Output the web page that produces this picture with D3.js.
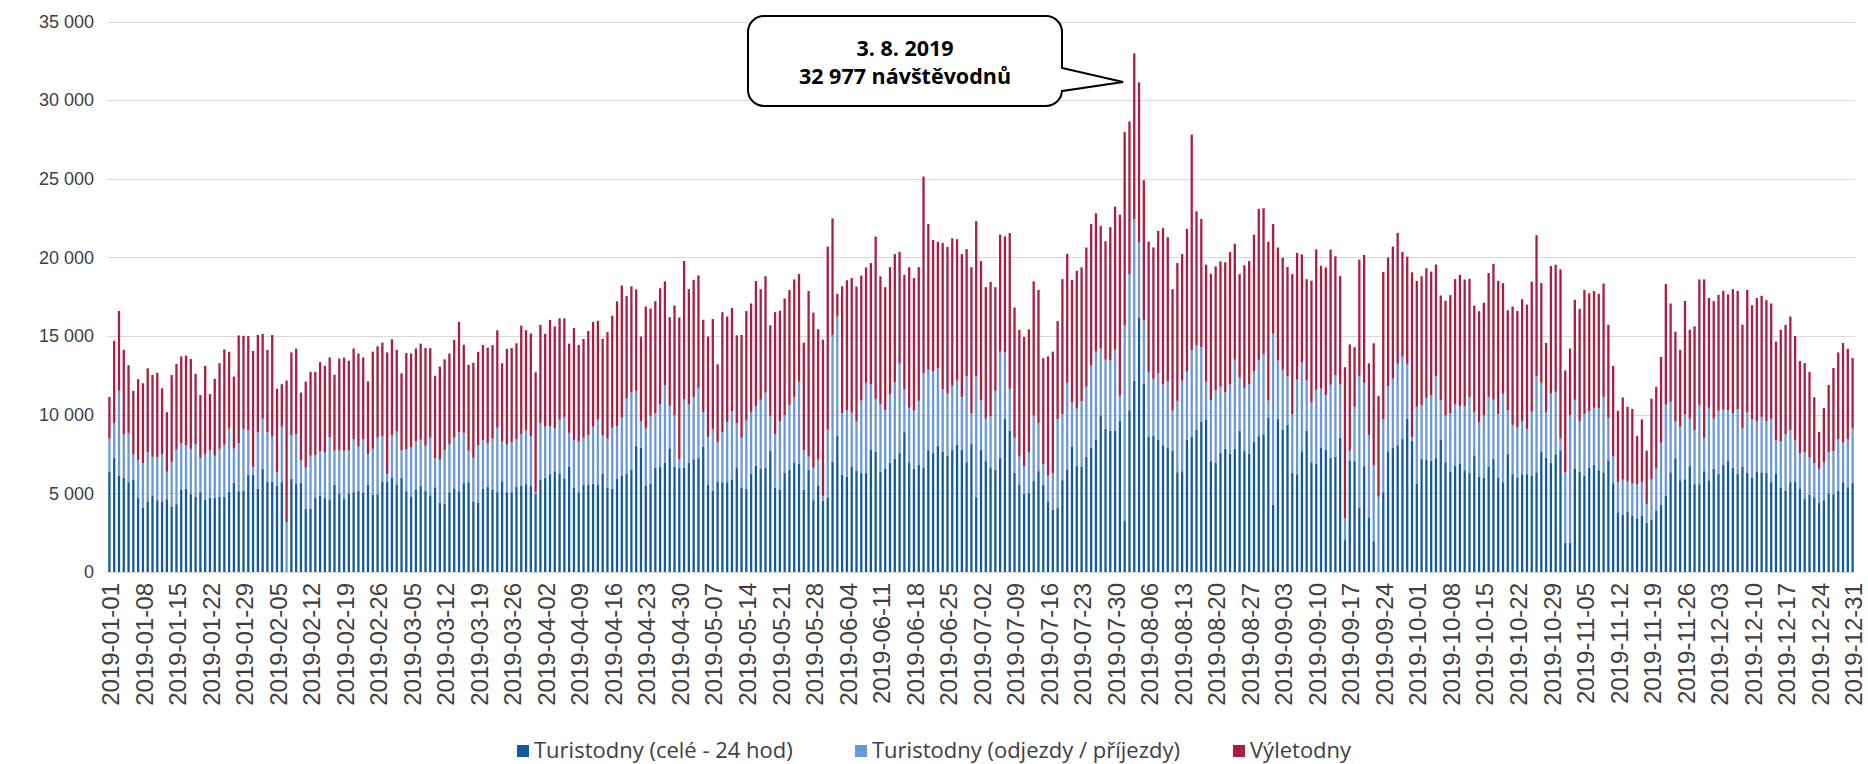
<!DOCTYPE html>
<html lang="cs">
<head>
<meta charset="utf-8">
<title>Návštěvodny 2019</title>
<script src="https://cdn.jsdelivr.net/npm/d3@7"></script>
<style>
    html, body { margin: 0; padding: 0; background: #fff; }
    svg { display: block; font-family: "Open Sans", "Noto Sans", sans-serif; }
    .grid line { stroke: #d9d9d9; stroke-width: 1.3; shape-rendering: crispEdges; }
    .axis text { fill: #404040; }
    .legend text { fill: #404040; }
    .callout text { font-weight: bold; fill: #000; }
</style>
</head>
<body>
<svg id="chart" width="1868" height="764"></svg>
<script>
"use strict";

// categories: every day of 2019
const FIRST_DAY = Date.UTC(2019, 0, 1);
const END_DAY = Date.UTC(2020, 0, 1);
const LABEL_EVERY_N_DAYS = 7;

const SERIES_NAMES = ['Turistodny (celé - 24 hod)', 'Turistodny (odjezdy / příjezdy)', 'Výletodny'];
const Y_TICKS = [0, 5000, 10000, 15000, 20000, 25000, 30000, 35000];

const CALLOUT_LINES = ['3. 8. 2019', '32 977 návštěvodnů'];
const CALLOUT_DAY = '2019-08-03';

// one row per month, Jan .. Dec
const turistodnyCele = [
    6360,7260,6110,5990,5710,5850,4700,4100,4490,4880,4560,4490,4630,4170,4310,5250,5300,4950,4790,5070,4610,4720,4700,4790,4790,5090,5670,5140,5160,6180,6180,
    5300,6570,5760,5740,5480,5710,0,5940,5600,5670,4010,4010,4700,4860,4700,4610,5530,5000,4650,5000,5070,5140,5070,5530,4910,4950,5760,5760,
    6010,5530,5990,5140,4770,5250,5460,5140,4880,5390,4420,4330,5070,5320,5140,5650,5710,4490,4420,5280,5410,5230,5070,5760,5070,5070,5410,5480,5580,5480,4980,
    5850,5990,6220,6410,6270,5920,6680,5350,5070,5530,5530,5620,5530,6240,5350,5300,5940,6110,6270,6520,8020,7900,5480,5600,6640,6680,6940,7860,6680,6640,
    6640,6960,7170,7240,7950,5530,5180,5760,5710,5710,5850,6660,5350,5300,6240,6750,6590,6610,7720,5370,5250,6310,6500,6940,6870,5210,6500,4560,5480,4520,4720,
    7000,8640,6180,6040,6680,6430,6290,6290,7790,7650,6360,6590,6940,7210,7560,8890,6980,6570,6800,6640,7740,7560,8020,7650,7400,7760,8090,7790,6980,8130,
    4750,7790,7050,6640,6520,7260,9750,8990,6290,5530,4980,5020,5780,6410,5550,4490,3940,4060,5830,6520,7970,6750,6680,7330,7900,8430,9910,9100,8990,8990,9630,
    3250,10280,12165,16150,11980,8590,8640,8390,8060,7880,7700,6340,6410,8390,8590,9030,9560,9680,7050,6940,7560,7830,7510,7830,8990,7700,7510,8290,8640,8760,9790,
    4290,9750,9060,9360,6290,6220,7630,8990,6980,6870,7880,7790,7260,7330,8530,2030,7100,7050,4100,6730,3480,1960,0,5070,7630,7880,8060,8480,9750,8340,
    5600,7190,7120,7070,7240,8410,6980,6360,6750,6870,6470,6290,7420,6080,5990,6680,7190,5990,5710,7490,6220,5990,6220,6220,6110,6340,7630,7260,6940,7440,7740,
    1870,1870,6590,6360,6110,6640,6820,6470,6340,7100,5650,3800,3660,3850,3570,3410,3590,3130,3340,3920,4290,4860,6340,7240,5830,5900,6730,5580,5580,6410,
    5830,6570,6240,6820,7050,6640,6240,6710,6310,5990,6360,6340,6310,5710,6240,5350,5180,5710,5760,5320,4680,4910,4750,4420,4560,5000,4950,5180,5710,5390,5650
];

const turistodnyOdjezdy = [
    2120,2210,5410,2770,3130,1610,2400,2830,3110,2440,2740,3000,1750,2830,3480,2930,2770,2880,3340,2190,2900,3020,2700,3040,3300,4030,2170,3060,3940,2830,500,
    3570,3180,3130,2900,850,3530,3180,2770,3180,1430,2630,3390,2740,2810,2930,3960,2190,2740,3060,2740,3360,2830,3360,1960,2930,3590,2880,480,
    2700,3410,1750,2650,3180,3060,2950,2880,3660,1840,2720,3410,3060,3230,3750,3200,2000,2770,3640,3110,2790,3250,4100,2530,3060,3180,3020,3270,3430,3160,90,
    3620,3250,3060,2740,3410,3940,2170,3020,3220,3000,3180,3620,4170,2470,3130,3870,3340,3710,4750,4910,3500,1680,3640,4330,3460,3990,4930,2700,3300,510,
    4330,3690,3960,4470,2210,3060,3920,2490,3180,3830,4360,2790,3180,4330,3920,3800,4360,4790,2210,3410,4330,3660,4120,4190,5230,2530,830,2070,1660,320,4330,
    8060,7600,3920,4240,3460,3130,4610,5740,4150,3360,4310,3710,4350,4840,5690,2740,3460,3690,4080,5990,5120,5210,4930,3990,3940,4080,4080,3340,5460,1960,
    7700,3130,2700,3270,5000,6750,4220,2650,2240,1800,1730,2600,4170,3070,1310,1640,2350,5650,4220,5510,2810,3640,4190,4450,5230,5580,4290,4400,4450,5140,1570,
    12440,8660,10253,4820,4030,4120,3640,4240,3870,4240,2560,4540,5760,4350,5510,5370,4720,2420,3890,4590,4220,3590,4420,5670,3360,4010,4450,4490,4840,5110,1110,
    10870,3690,3800,3090,3760,6010,5690,3220,3800,4720,3780,3460,4650,5180,3390,1380,620,3460,8360,5300,5230,4840,4790,4630,4170,4420,5180,5210,3480,250,
    4910,3410,3940,4170,5210,2530,2970,3730,3920,3690,4080,4840,2740,3430,3960,4450,3760,4060,5620,2790,3130,3180,3360,2880,4080,6110,4400,2900,4400,4010,740,
    4470,8110,4360,3230,3940,3590,3620,3940,4790,2700,1710,1910,2210,1910,2070,2170,2120,1200,2560,2670,3920,5780,4490,2330,3410,4120,3020,3430,5050,2120,
    4610,3180,4010,3500,3230,3460,4120,2420,3830,3710,3230,3520,3270,4030,2120,2950,3570,3320,2600,2240,2930,2370,2170,2140,2400,2630,2720,3250,2540,3040,3480
];

const vyletodny = [
    2650,5230,5070,5370,4310,4060,5160,5070,5350,5210,5370,4190,3780,5530,5440,5530,5690,5710,4470,3990,5600,3570,4880,5440,6060,4880,4580,6840,5920,5990,7370,
    6200,5390,5230,6430,5320,2700,8990,5250,5420,4310,5460,5320,5280,5670,5480,5070,4820,5830,5920,5690,5780,5920,5210,4630,6170,5810,5940,7720,
    6080,5180,4890,6130,5940,5900,6110,6220,5690,5250,5920,5780,5760,6200,7010,5600,5460,6040,5940,6040,6060,5940,6200,4980,6060,5990,6110,6910,6360,6520,7630,
    6240,5900,6750,6470,6450,6270,5670,7140,6150,6290,6610,6660,6270,6110,6770,7120,7930,8390,6520,6730,6450,5390,7760,6820,7120,7370,6610,5640,6960,9030,
    8800,7330,7440,7140,5880,6380,6980,4950,7630,6700,6570,5600,6540,6960,6910,7950,7030,7400,5760,7740,7030,7420,7300,7470,6840,6840,10530,9860,8300,9930,11640,
    7420,1450,8060,8270,8550,8590,7950,7330,7700,10320,8130,7810,8090,8160,7100,7260,8940,8430,8500,12510,9260,8340,8040,9290,9330,9380,8990,9080,8090,9290,
    9860,8850,8360,8530,6590,7440,7370,9910,8290,8060,8230,7810,8530,8450,6730,7580,7720,6240,8570,8200,7790,8760,8500,8850,8990,8800,7810,7530,8480,9100,11520,
    12280,9700,10559,10160,8890,8290,8360,9060,9930,9170,7720,8760,8040,9080,13710,8530,8160,7440,8020,7900,7970,8270,8410,7370,6590,7790,7810,8660,9610,9260,10090,
    6960,7190,7120,6940,8890,8060,6870,6410,7740,8920,7810,8110,8590,7560,6890,9610,6750,3780,7400,8130,4560,7740,6410,9380,8200,8390,8320,6660,6820,10460,
    8000,8200,8250,7860,7100,6640,7300,7510,7950,8340,8040,7510,6770,7070,7170,7880,8640,8460,7030,6360,7530,7420,7760,7900,8270,8960,6340,4400,8110,8090,10760,
    6470,4220,6360,7140,7880,7490,7420,7280,7210,5920,5740,4540,5230,4750,4720,3060,3990,3390,5120,5180,5460,7670,6240,5710,4890,7210,5650,6610,7970,10070,
    6980,7470,7370,7560,7370,7880,7510,6590,7790,7260,7830,7700,7700,7330,6290,7100,6960,7210,6640,5850,5670,5440,4190,2350,3460,4260,5300,5530,6310,5760,4470
];


class VisitorChart {

    constructor(svgSelector) {
        this.svg = d3.select(svgSelector);
        this.width = +this.svg.attr('width');
        this.height = +this.svg.attr('height');

        this.plotLeft = 107;
        this.plotRight = 1855;
        this.plotTop = 21.5;
        this.plotBottom = 572;

        this.colors = ['#135a9c', '#6b98da', '#ab1e42'];
        this.formatDay = d3.utcFormat('%Y-%m-%d');
        this.formatValue = d3.formatLocale({ decimal: ',', thousands: ' ', grouping: [3], currency: ['', ' Kč'] }).format(',d');
    }

    draw() {
        const days = d3.utcDay.range(FIRST_DAY, END_DAY).map(this.formatDay);
        const rows = days.map((day, i) => ({
            day: day,
            [SERIES_NAMES[0]]: turistodnyCele[i],
            [SERIES_NAMES[1]]: turistodnyOdjezdy[i],
            [SERIES_NAMES[2]]: vyletodny[i]
        }));

        this.x = d3.scaleBand().domain(days).range([this.plotLeft, this.plotRight]).paddingInner(0.52).paddingOuter(0.26);
        this.y = d3.scaleLinear().domain([0, 35000]).range([this.plotBottom, this.plotTop]);

        this.drawGrid();
        this.drawBars(rows);
        this.drawAxes(days);
        this.drawLegend();
        this.drawCallout();
    }

    drawGrid() {
        this.svg.append('g').classed('grid', true)
            .selectAll('line').data(Y_TICKS).join('line')
            .attr('x1', this.plotLeft).attr('x2', this.plotRight)
            .attr('y1', d => Math.round(this.y(d)) + 0.5).attr('y2', d => Math.round(this.y(d)) + 0.5);
    }

    drawBars(rows) {
        const stacked = d3.stack().keys(SERIES_NAMES)(rows);
        this.svg.append('g').classed('bars', true)
            .selectAll('g').data(stacked).join('g')
            .attr('fill', (d, i) => this.colors[i])
            .selectAll('rect').data(d => d).join('rect')
            .attr('x', d => this.x(d.data.day))
            .attr('width', this.x.bandwidth())
            .attr('y', d => this.y(d[1]))
            .attr('height', d => Math.max(0, this.y(d[0]) - this.y(d[1])));
    }

    drawAxes(days) {
        const yAxis = d3.axisLeft(this.y).tickValues(Y_TICKS).tickSize(0).tickPadding(12).tickFormat(this.formatValue);
        const yGroup = this.svg.append('g').classed('axis', true)
            .attr('transform', `translate(${this.plotLeft - 1}, 0)`)
            .call(yAxis);
        yGroup.select('.domain').remove();
        yGroup.selectAll('text').attr('font-size', 18).attr('font-family', null);

        const labelled = days.filter((d, i) => i % LABEL_EVERY_N_DAYS === 0);
        const xAxis = d3.axisBottom(this.x).tickValues(labelled).tickSize(0).tickPadding(0);
        const xGroup = this.svg.append('g').classed('axis', true)
            .attr('transform', `translate(0, ${this.plotBottom})`)
            .call(xAxis);
        xGroup.select('.domain').remove();
        xGroup.selectAll('text')
            .attr('font-size', 24).attr('font-family', null)
            .attr('text-anchor', 'end')
            .attr('dy', null)
            .attr('transform', d => `translate(${this.x.bandwidth() / 2 + 8.5}, 11) rotate(-90)`)
            .attr('x', 0).attr('y', 0);
    }

    drawLegend() {
        const legend = this.svg.append('g').classed('legend', true);
        const startX = [517, 855, 1233];
        SERIES_NAMES.forEach((name, i) => {
            const item = legend.append('g').attr('transform', `translate(${startX[i]}, 745)`);
            item.append('rect').attr('width', 12).attr('height', 12).attr('fill', this.colors[i]);
            item.append('text').attr('x', 17).attr('y', 12.5).attr('font-size', 22).text(name);
        });
    }

    drawCallout() {
        const g = this.svg.append('g').classed('callout', true);
        const left = 748, right = 1062, top = 16, bottom = 106, r = 16;
        const tipX = this.x(CALLOUT_DAY) - 10;
        const tipY = 82;
        const path = d3.path();
        path.moveTo(left + r, top);
        path.lineTo(right - r, top);
        path.arcTo(right, top, right, top + r, r);
        path.lineTo(right, 68);
        path.lineTo(tipX, tipY);
        path.lineTo(right, 91);
        path.lineTo(right, bottom - r);
        path.arcTo(right, bottom, right - r, bottom, r);
        path.lineTo(left + r, bottom);
        path.arcTo(left, bottom, left, bottom - r, r);
        path.lineTo(left, top + r);
        path.arcTo(left, top, left + r, top, r);
        path.closePath();
        g.append('path').attr('d', path.toString()).attr('fill', '#fff').attr('stroke', '#000').attr('stroke-width', 2);

        g.selectAll('text').data(CALLOUT_LINES).join('text')
            .attr('x', (left + right) / 2)
            .attr('y', (d, i) => 56 + i * 28)
            .attr('text-anchor', 'middle')
            .attr('font-size', 21.5)
            .text(d => d);
    }
}

new VisitorChart('#chart').draw();
</script>
</body>
</html>
